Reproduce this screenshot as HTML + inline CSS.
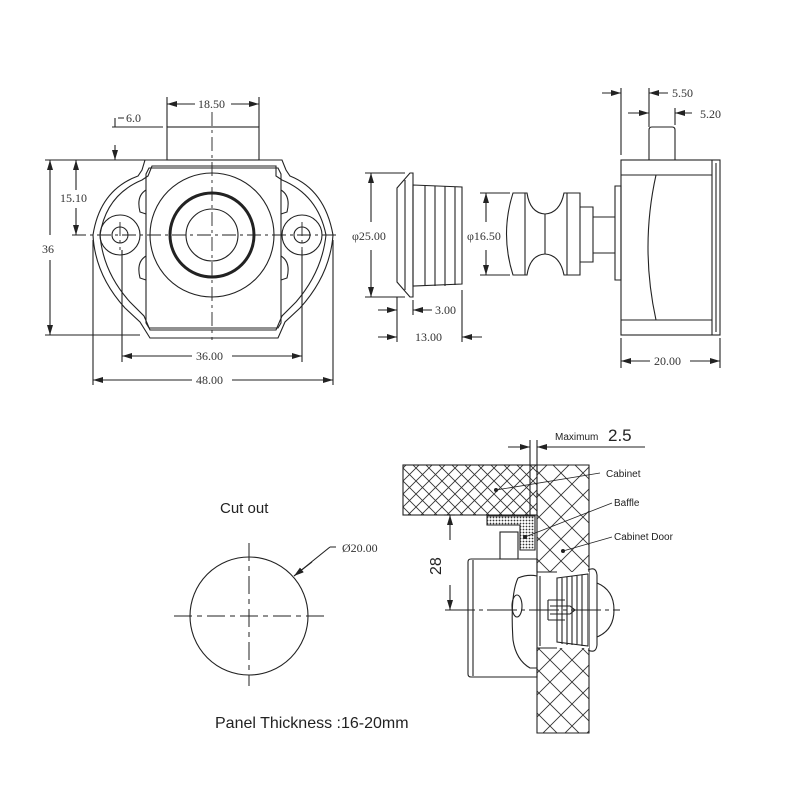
<!DOCTYPE html>
<html><head><meta charset="utf-8"><style>
html,body{margin:0;padding:0;background:#fff;}
svg{display:block;}
.d{font-family:"Liberation Serif",serif;font-size:12px;fill:#333;}
.s{font-family:"Liberation Sans",sans-serif;fill:#222;}
</style></head><body>
<svg width="800" height="800" viewBox="0 0 800 800" xmlns="http://www.w3.org/2000/svg">
<defs>
<marker id="a" viewBox="0 0 10 6" refX="10" refY="3" markerWidth="10" markerHeight="6" orient="auto-start-reverse" markerUnits="userSpaceOnUse"><path d="M0,0 L10,3 L0,6 z" fill="#222"/></marker>
<pattern id="h" width="13" height="13" patternUnits="userSpaceOnUse"><path d="M0,0 L13,13 M13,0 L0,13" stroke="#333" stroke-width="0.9"/></pattern>
<pattern id="h2" width="22" height="22" patternUnits="userSpaceOnUse"><path d="M0,0 L22,22 M22,0 L0,22" stroke="#333" stroke-width="0.9"/></pattern>
<pattern id="dt" width="3" height="3" patternUnits="userSpaceOnUse"><circle cx="1.5" cy="1.5" r="0.9" fill="#333"/></pattern>
</defs>
<g fill="none" stroke="#222" stroke-width="1.1">
<!-- Front view -->
<rect x="167" y="127" width="92" height="33"/>
<path d="M145,160 L282,160 L286,170 L290,176 Q325,190 333,235 Q330,275 300,308 L285,322 L278,338 L150,338 L140,322 L125,308 Q95,275 93,235 Q100,190 138,176 L142,170 Z"/>
<path d="M152,166 L276,166 L276,176 L282,180 Q318,195 326,235 Q322,272 296,302 L282,316 L276,330 L150,330 L144,316 L130,302 Q103,272 100,235 Q106,195 142,180 L148,176 Z"/>
<path d="M149,168 L278,168 L281,174 L281,323 L278,328 L149,328 L146,323 L146,174 Z"/>
<circle cx="212" cy="235" r="62"/>
<circle cx="212" cy="235" r="42" stroke-width="3"/>
<circle cx="212" cy="235" r="26"/>
<circle cx="120" cy="235" r="20"/><circle cx="120" cy="235" r="8"/>
<circle cx="302" cy="235" r="20"/><circle cx="302" cy="235" r="8"/>
<path d="M146,190 Q136,196 140,212 L146,214 M146,256 Q136,262 140,278 L146,280 M281,190 Q291,196 287,212 L281,214 M281,256 Q291,262 287,278 L281,280"/>
<path d="M212,112 V340 M72,235 H340 M120,222 V250 M302,222 V250" stroke-dasharray="14,4,3,4" stroke-width="0.9"/>
<!-- dims front -->
<path d="M167,97 V127 M259,97 V127"/>
<path d="M195,104 H167" marker-end="url(#a)"/><path d="M231,104 H259" marker-end="url(#a)"/>
<path d="M112,127 H163 M118,118 H124"/>
<path d="M115,118 V127"/><path d="M115,145 V160" marker-end="url(#a)"/>
<path d="M45,160 H145 M45,335 H140"/>
<path d="M50,235 V160" marker-end="url(#a)"/><path d="M50,260 V335" marker-end="url(#a)"/>
<path d="M76,190 V160" marker-end="url(#a)"/><path d="M76,208 V235" marker-end="url(#a)"/>
<path d="M122,250 V362 M302,250 V362 M93,240 V385 M333,240 V385"/>
<path d="M192,356 H122" marker-end="url(#a)"/><path d="M232,356 H302" marker-end="url(#a)"/>
<path d="M192,380 H93" marker-end="url(#a)"/><path d="M232,380 H333" marker-end="url(#a)"/>
<!-- bezel -->
<path d="M397,188 L410,173 L413,173 L413,297 L410,297 L397,282 Z"/>
<path d="M405,180 V290"/>
<path d="M413,185 L462,187 L462,284 L413,286 Z"/>
<path d="M425,186 V286 M435,186 V286 M445,186 V286 M455,187 V285"/>
<path d="M365,173 H405 M365,297 H405"/>
<path d="M371,222 V173" marker-end="url(#a)"/><path d="M371,250 V297" marker-end="url(#a)"/>
<path d="M397,297 V342 M413,300 V315 M462,290 V342"/>
<path d="M378,310 H397" marker-end="url(#a)"/><path d="M432,310 H413" marker-end="url(#a)"/>
<path d="M378,337 H397" marker-end="url(#a)"/><path d="M482,337 H462" marker-end="url(#a)"/>
<!-- knob -->
<path d="M513,193 Q500,234 513,275 L525,275 L525,193 Z"/>
<path d="M525,193 L527,193 Q530,213 545,214 L545,254 Q530,255 527,275 L525,275"/>
<path d="M545,214 Q560,213 564,193 L580,193 L580,275 L564,275 Q560,255 545,254"/>
<path d="M567,193 V275 M580,207 H593 V262 H580 M593,217 H615 V253 H593 M615,186 H621 V280 H615 Z"/>
<path d="M480,193 H510 M480,275 H510"/>
<path d="M486,222 V193" marker-end="url(#a)"/><path d="M486,250 V275" marker-end="url(#a)"/>
<!-- side body -->
<rect x="621" y="160" width="99" height="175"/>
<path d="M621,175 H712 M621,320 H712 M712,160 V335 M716,163 V332 M656,175 Q640,247 656,320"/>
<path d="M649,160 V130 Q649,127 652,127 L672,127 Q675,127 675,130 V160"/>
<path d="M621,88 V155 M649,88 V127 M675,108 V125 M621,338 V368 M720,338 V368"/>
<path d="M602,93 H621" marker-end="url(#a)"/><path d="M668,93 H649" marker-end="url(#a)"/>
<path d="M628,113 H649" marker-end="url(#a)"/><path d="M692,113 H675" marker-end="url(#a)"/>
<path d="M650,361 H621" marker-end="url(#a)"/><path d="M690,361 H720" marker-end="url(#a)"/>
<!-- cut out -->
<circle cx="249" cy="616" r="59"/>
<path d="M174,616 H324 M249,543 V686" stroke-dasharray="18,5,5,5" stroke-width="1"/>
<path d="M330,547 H336 M330,547 L294,576"/>
<path d="M312,562 L294,576" marker-end="url(#a)"/>
<!-- installation -->
<rect x="403" y="465" width="134" height="50" fill="url(#h)"/>
<path d="M537,465 H589 V733 H537 V648 M537,572 V465"  fill="url(#h2)"/>
<rect x="537" y="572" width="52" height="76" fill="#fff" stroke="none"/>
<path d="M537,572 H557 M537,648 H557"/>
<path d="M487,516 H535 V550 H520 V525 H487 Z" fill="url(#dt)"/>
<rect x="500" y="532" width="18" height="27"/>
<path d="M468,562 Q468,559 471,559 H537 V677 H471 Q468,677 468,674 Z M473,560 V676"/>
<path d="M518,578 Q510,595 513,640 Q516,660 530,668 L537,668 M518,578 Q528,574 537,576"/>
<ellipse cx="517" cy="606" rx="5" ry="11"/>
<path d="M540,576 V646 M548,600 V620 M548,600 H565 M548,620 H565 M550,606 H570 L575,610 L570,614 H550"/>
<path d="M557,578 L588,574 V646 L557,642 Z M562,578 V644 M567,577 V645 M572,576 V645 M577,576 V645 M582,575 V646"/>
<path d="M588,570 Q596,566 597,575 V645 Q596,654 588,650"/>
<path d="M597,583 Q614,590 614,610 Q614,630 597,637"/>
<path d="M445,610 H620" stroke-dasharray="30,4,4,4"/>
<path d="M444,515 H455"/>
<path d="M450,540 V515" marker-end="url(#a)"/><path d="M450,585 V610" marker-end="url(#a)"/>
<path d="M530,440 V515 M537,440 V465 M550,447 H645"/>
<path d="M508,447 H530" marker-end="url(#a)"/><path d="M556,447 H537" marker-end="url(#a)"/>
<path d="M496,490 L600,473 M525,537 L612,503 M563,551 L612,537" stroke-width="0.8"/>
</g>
<circle cx="496" cy="490" r="2" fill="#222"/><circle cx="525" cy="537" r="2" fill="#222"/><circle cx="563" cy="551" r="2" fill="#222"/>
<rect x="197" y="96" width="31" height="14" fill="#fff"/>
<g class="d">
<text x="198" y="108">18.50</text>
<text x="126" y="122">6.0</text>
<text x="60" y="202">15.10</text>
<text x="42" y="253">36</text>
<text x="196" y="360">36.00</text>
<text x="196" y="384">48.00</text>
<text x="352" y="240">φ25.00</text>
<text x="435" y="314">3.00</text>
<text x="415" y="341">13.00</text>
<text x="467" y="240">φ16.50</text>
<text x="672" y="97">5.50</text>
<text x="700" y="118">5.20</text>
<text x="654" y="365">20.00</text>
<text x="342" y="552">Ø20.00</text>
</g>
<text class="s" x="220" y="513" font-size="15">Cut out</text>
<text class="s" x="215" y="728" font-size="16">Panel Thickness :16-20mm</text>
<text class="s" x="555" y="440" font-size="10">Maximum</text>
<text class="s" x="608" y="441" font-size="17">2.5</text>
<text class="s" x="606" y="477" font-size="10">Cabinet</text>
<text class="s" x="614" y="506" font-size="10">Baffle</text>
<text class="s" x="614" y="540" font-size="10">Cabinet Door</text>
<text class="s" x="0" y="0" font-size="16" transform="translate(441,575) rotate(-90)">28</text>
</svg>
</body></html>
